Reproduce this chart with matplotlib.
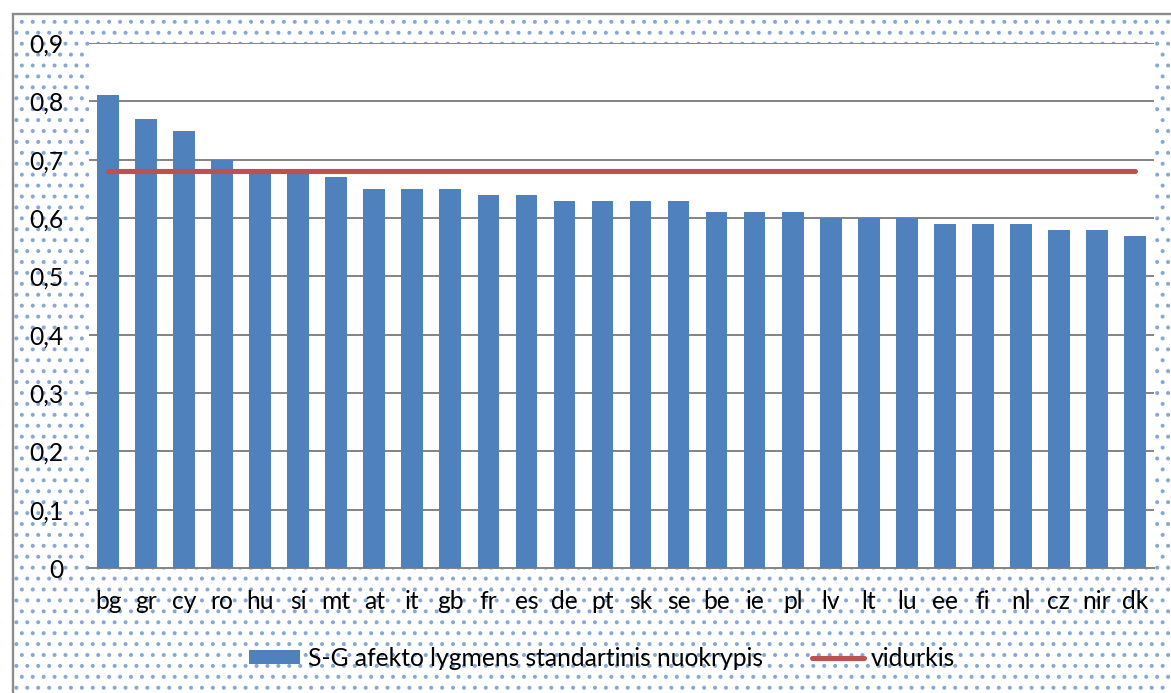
import matplotlib
matplotlib.use("Agg")
import matplotlib.pyplot as plt
from matplotlib.patches import Rectangle
import numpy as np

categories = ["bg", "gr", "cy", "ro", "hu", "si", "mt", "at", "it", "gb", "fr", "es", "de", "pt",
              "sk", "se", "be", "ie", "pl", "lv", "lt", "lu", "ee", "fi", "nl", "cz", "nir", "dk"]
sd_values = [0.81, 0.77, 0.75, 0.70, 0.68, 0.68, 0.67, 0.65, 0.65, 0.65, 0.64, 0.64, 0.63, 0.63,
             0.63, 0.63, 0.61, 0.61, 0.61, 0.60, 0.60, 0.60, 0.59, 0.59, 0.59, 0.58, 0.58, 0.57]
mean_value = 0.68
y_ticks = [0, 0.1, 0.2, 0.3, 0.4, 0.5, 0.6, 0.7, 0.8, 0.9]
y_tick_labels = ["0", "0,1", "0,2", "0,3", "0,4", "0,5", "0,6", "0,7", "0,8", "0,9"]
bar_label = "S-G afekto lygmens standartinis nuokrypis"
line_label = "vidurkis"

DPI = 131
W, H = 1171, 693
plt.rcParams['font.family'] = ['Lato', 'DejaVu Sans']
plt.rcParams['hatch.linewidth'] = 1.0

fig = plt.figure(figsize=(W / DPI, H / DPI), dpi=DPI)
fig.patch.set_facecolor("white")

# dotted chart-area background
bg = Rectangle((13 / W, 0), 1, 1 - 14 / H, transform=fig.transFigure, facecolor="white",
               edgecolor="#86a8d8", hatch="..", linewidth=0, zorder=0)
fig.add_artist(bg)
border = Rectangle((13 / W, -0.05), 1.1, 1.05 - 14 / H, transform=fig.transFigure,
                   facecolor="none", edgecolor="#8c8c8c", linewidth=1.3, zorder=1)
fig.add_artist(border)

ax = fig.add_axes([89 / W, 1 - 568 / H, (1154 - 89) / W, (568 - 43) / H])
ax.set_facecolor("white")
ax.set_zorder(2)

x = np.arange(len(categories))
bars = ax.bar(x, sd_values, width=0.57, color="#4f81bd", zorder=3, label=bar_label)
line, = ax.plot(x, [mean_value] * len(categories), color="#c0504d", linewidth=2.8,
                solid_capstyle="round", zorder=4, label=line_label)

ax.set_xlim(-0.5, len(categories) - 0.5)
ax.set_ylim(0, 0.9)
ax.set_yticks(y_ticks)
ax.set_yticklabels(y_tick_labels)
ax.set_xticks(x)
ax.set_xticklabels(categories)
ax.grid(axis="y", color="#868686", linewidth=1.1, zorder=1)
ax.set_axisbelow(True)
for s in ["left", "right", "top"]:
    ax.spines[s].set_visible(False)
ax.spines["bottom"].set_color("#868686")
ax.spines["bottom"].set_linewidth(1.1)
ax.tick_params(axis="both", length=0, labelsize=13.5, colors="black")
ax.tick_params(axis="y", pad=14)
ax.tick_params(axis="x", pad=12)

leg = fig.legend([bars, line], [bar_label, line_label], loc="center",
                 bbox_to_anchor=(602 / W, 1 - 658 / H), ncol=2, frameon=False,
                 fontsize=13.5, handlelength=2.1, handleheight=0.5, handletextpad=0.3,
                 columnspacing=2.0)

fig.savefig("out.png", dpi=DPI, facecolor="white")
